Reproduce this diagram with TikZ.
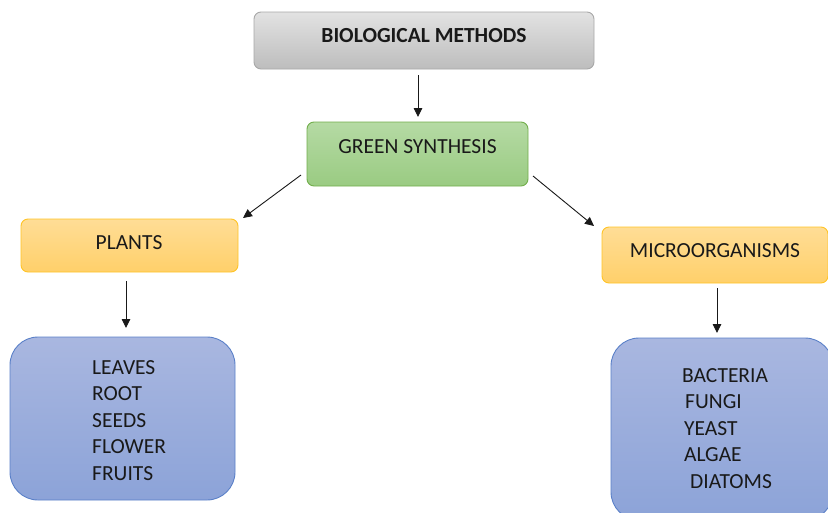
\documentclass[tikz,border=0pt]{standalone}
\usepackage{fontspec}
\setmainfont{Carlito}
\usetikzlibrary{arrows.meta}
\definecolor{grayT}{HTML}{E2E2E2}
\definecolor{grayB}{HTML}{BDBDBD}
\definecolor{grayD}{HTML}{A8A8A8}
\definecolor{greenT}{HTML}{B5DAA4}
\definecolor{greenB}{HTML}{9ACB82}
\definecolor{greenD}{HTML}{72AE4C}
\definecolor{orT}{HTML}{FFDD96}
\definecolor{orB}{HTML}{FFD06A}
\definecolor{orD}{HTML}{FFC426}
\definecolor{blT}{HTML}{A9B7E0}
\definecolor{blB}{HTML}{8CA3D8}
\definecolor{blD}{HTML}{5A80C8}
\tikzset{
  box/.style={rectangle, rounded corners=7pt, line width=0.9pt, inner sep=0pt},
  graybox/.style={box, draw=grayD, top color=grayT, bottom color=grayB},
  greenbox/.style={box, draw=greenD, top color=greenT, bottom color=greenB},
  orbox/.style={box, draw=orD, top color=orT, bottom color=orB},
  bluebox/.style={box, rounded corners=28pt, draw=blD, top color=blT, bottom color=blB},
  lbl/.style={font=\fontsize{21.5}{25}\selectfont, text=black!90, inner sep=0pt},
  listtxt/.style={font=\fontsize{21.5}{26.5}\selectfont, text=black!90, align=left, inner sep=0pt, anchor=base west},
  arr/.style={-{Triangle[length=9pt,width=8.5pt]}, line width=0.9pt, black!90},
}
\begin{document}
\begin{tikzpicture}[x=1pt,y=-1pt]
\useasboundingbox (0,0) rectangle (828,512);
\clip (0,0) rectangle (828,512);
% boxes
\node[graybox, minimum width=340pt, minimum height=57pt] (bio) at (424,40.5) {};
\node[lbl, font=\fontsize{21.5}{25}\selectfont\bfseries] (biot) at (424,36) {BIOLOGICAL METHODS};
\node[greenbox, minimum width=221pt, minimum height=64pt] (green) at (417.5,154) {};
\node[lbl] (greent) at (417.5,147) {GREEN SYNTHESIS};
\node[orbox, minimum width=217pt, minimum height=53pt] (plants) at (129.5,245.5) {};
\node[lbl] (plantst) at (129,243) {PLANTS};
\node[orbox, minimum width=226pt, minimum height=56pt] (micro) at (715,255) {};
\node[lbl] (microt) at (715,251) {MICROORGANISMS};
\node[bluebox, minimum width=225pt, minimum height=163pt] (plist) at (122.5,418.5) {};
\node[listtxt] (plistt) at (92,480) {LEAVES\\ROOT\\SEEDS\\FLOWER\\FRUITS};
\node[bluebox, minimum width=222pt, minimum height=182pt] (mlist) at (722,429) {};
\node[listtxt] (mlistt) at (682,488) {BACTERIA\\\hspace*{3pt}FUNGI\\\hspace*{2pt}YEAST\\\hspace*{2pt}ALGAE\\\hspace*{8pt}DIATOMS};
% connectors
\coordinate (a1s) at (418,75);
\coordinate (a1e) at (418,117);
\draw[arr] (a1s) -- (a1e);
\coordinate (a2s) at (301,175);
\coordinate (a2e) at (243,218);
\draw[arr] (a2s) -- (a2e);
\coordinate (a3s) at (533,176);
\coordinate (a3e) at (594,226);
\draw[arr] (a3s) -- (a3e);
\coordinate (a4s) at (126,281);
\coordinate (a4e) at (126,328);
\draw[arr] (a4s) -- (a4e);
\coordinate (a5s) at (717,288);
\coordinate (a5e) at (717,333);
\draw[arr] (a5s) -- (a5e);
\end{tikzpicture}
\end{document}
